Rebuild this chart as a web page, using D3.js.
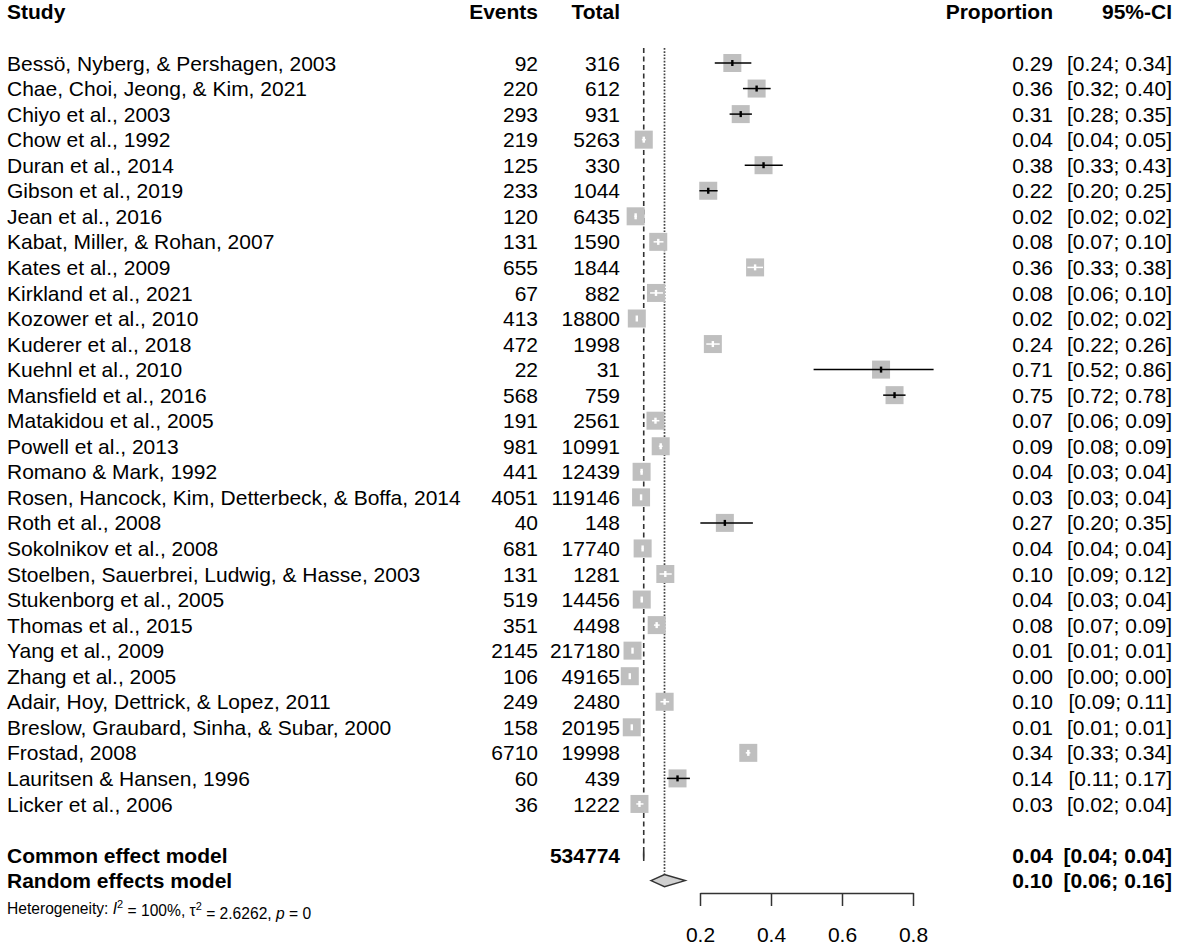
<!DOCTYPE html>
<html><head><meta charset="utf-8">
<script src="https://cdn.jsdelivr.net/npm/d3@7"></script>
<style>
body{margin:0;background:#fff;}
svg text{font-family:"Liberation Sans",Arial,sans-serif;fill:#000;}
</style></head>
<body><svg id="c" width="1181" height="950"></svg>
<script>
const studies = ["Bessö, Nyberg, & Pershagen, 2003","Chae, Choi, Jeong, & Kim, 2021","Chiyo et al., 2003","Chow et al., 1992","Duran et al., 2014","Gibson et al., 2019","Jean et al., 2016","Kabat, Miller, & Rohan, 2007","Kates et al., 2009","Kirkland et al., 2021","Kozower et al., 2010","Kuderer et al., 2018","Kuehnl et al., 2010","Mansfield et al., 2016","Matakidou et al., 2005","Powell et al., 2013","Romano & Mark, 1992","Rosen, Hancock, Kim, Detterbeck, & Boffa, 2014","Roth et al., 2008","Sokolnikov et al., 2008","Stoelben, Sauerbrei, Ludwig, & Hasse, 2003","Stukenborg et al., 2005","Thomas et al., 2015","Yang et al., 2009","Zhang et al., 2005","Adair, Hoy, Dettrick, & Lopez, 2011","Breslow, Graubard, Sinha, & Subar, 2000","Frostad, 2008","Lauritsen & Hansen, 1996","Licker et al., 2006"];
const events = [92,220,293,219,125,233,120,131,655,67,413,472,22,568,191,981,441,4051,40,681,131,519,351,2145,106,249,158,6710,60,36];
const totals = [316,612,931,5263,330,1044,6435,1590,1844,882,18800,1998,31,759,2561,10991,12439,119146,148,17740,1281,14456,4498,217180,49165,2480,20195,19998,439,1222];
const proportion = [0.2911,0.3595,0.3147,0.0416,0.379,0.2232,0.0187,0.0824,0.3552,0.076,0.022,0.2362,0.710,0.748,0.0746,0.0893,0.0355,0.034,0.270,0.0384,0.1023,0.0359,0.078,0.0099,0.0022,0.1004,0.0078,0.336,0.1367,0.0295];
const lower = [0.2416,0.321,0.2834,0.0363,0.326,0.1984,0.0154,0.0693,0.3334,0.0594,0.0200,0.2177,0.520,0.716,0.0646,0.0840,0.0320,0.0330,0.201,0.0357,0.0860,0.0330,0.0703,0.0095,0.0018,0.0886,0.0067,0.329,0.1068,0.0206];
const upper = [0.3446,0.399,0.3462,0.0474,0.433,0.2496,0.0223,0.0971,0.3775,0.0956,0.0240,0.2555,0.858,0.779,0.0856,0.0947,0.0390,0.0351,0.349,0.0410,0.1204,0.0390,0.0864,0.0103,0.0026,0.1131,0.0091,0.342,0.1716,0.0407];
const summaryLabels = ["Common effect model","Random effects model"];
const summaryTotal = 534774;
const summaryEst = [0.0415,0.100];
const summaryLower = [0.0410,0.062];
const summaryUpper = [0.0420,0.158];
const tickValues = [0.2,0.4,0.6,0.8];
const headers = {study:"Study",events:"Events",total:"Total",prop:"Proportion",ci:"95%-CI"};

const svg = d3.select("#c");
const FS = 21;
const x = d3.scaleLinear().domain([0.2,0.8]).range([700,913]);
const y = d3.scaleLinear().domain([0,1]).range([63,63+25.55]);
const xEv = 538, xTot = 620, xProp = 1053, xCI = 1172, xStudy = 7;
const sq = 18;
const f2 = d => d.toFixed(2);

function txt(xp, yp, s, anchor, bold, size){
  return svg.append("text").attr("x",xp).attr("y",yp).attr("dy","0.36em")
    .attr("text-anchor",anchor||"start").attr("font-size",size||FS)
    .attr("font-weight",bold?"bold":"normal").text(s);
}
// headers
const hy = y(-2);
txt(xStudy,hy,headers.study,"start",true);
txt(xEv,hy,headers.events,"end",true);
txt(xTot,hy,headers.total,"end",true);
txt(xProp,hy,headers.prop,"end",true);
txt(xCI,hy,headers.ci,"end",true);

// reference lines
svg.append("line").attr("x1",x(summaryEst[0])).attr("x2",x(summaryEst[0]))
  .attr("y1",48).attr("y2",y(31)-6).attr("stroke","#333").attr("stroke-width",1.6).attr("stroke-dasharray","5,3.5");
svg.append("line").attr("x1",x(summaryEst[1])).attr("x2",x(summaryEst[1]))
  .attr("y1",48).attr("y2",y(32)-6).attr("stroke","#444").attr("stroke-width",1.7).attr("stroke-dasharray","1.7,1.5");

// study rows
studies.forEach((s,i)=>{
  const yy = y(i);
  txt(xStudy,yy,s,"start",false);
  txt(xEv,yy,events[i],"end",false);
  txt(xTot,yy,totals[i],"end",false);
  txt(xProp,yy,f2(proportion[i]),"end",false);
  txt(xCI,yy,"["+f2(lower[i])+"; "+f2(upper[i])+"]","end",false);
  const cx = x(proportion[i]);
  svg.append("rect").attr("x",cx-sq/2).attr("y",yy-sq/2).attr("width",sq).attr("height",sq).attr("fill","#bfbfbf");
  const inside = (x(upper[i])-x(lower[i])) < sq;
  const col = inside ? "#fff" : "#000";
  svg.append("line").attr("x1",x(lower[i])).attr("x2",x(upper[i])).attr("y1",yy).attr("y2",yy)
    .attr("stroke",col).attr("stroke-width",1.5);
  svg.append("rect").attr("x",cx-1.2).attr("y",yy-3).attr("width",2.4).attr("height",6).attr("fill",col);
});

// summary rows
summaryLabels.forEach((s,k)=>{
  const yy = y(31+k);
  txt(xStudy,yy,s,"start",true);
  if(k===0) txt(xTot,yy,summaryTotal,"end",true);
  txt(xProp,yy,f2(summaryEst[k]),"end",true);
  txt(xCI,yy,"["+f2(summaryLower[k])+"; "+f2(summaryUpper[k])+"]","end",true);
  const h = 6;
  const pts = [[x(summaryLower[k]),yy],[x(summaryEst[k]),yy-h],[x(summaryUpper[k]),yy],[x(summaryEst[k]),yy+h]];
  svg.append("polygon").attr("points",pts.map(p=>p.join(",")).join(" "))
    .attr("fill","#d0d0d0").attr("stroke","#333").attr("stroke-width",1.5);
});

// heterogeneity
const ht = svg.append("text").attr("x",xStudy).attr("y",y(33)+2).attr("dy","0.36em").attr("font-size",15.6);
ht.append("tspan").text("Heterogeneity: ");
ht.append("tspan").attr("font-style","italic").text("I");
ht.append("tspan").attr("font-size",11).attr("dy","-0.55em").text("2");
ht.append("tspan").attr("dy","0.55em").text(" = 100%, τ");
ht.append("tspan").attr("font-size",11).attr("dy","-0.55em").text("2");
ht.append("tspan").attr("dy","0.55em").text(" = 2.6262, ");
ht.append("tspan").attr("font-style","italic").text("p");
ht.append("tspan").text(" = 0");

// axis
const ax = svg.append("g").attr("transform","translate(0,893)")
  .call(d3.axisBottom(x).tickValues(tickValues).tickSize(13).tickSizeOuter(0).tickFormat(d3.format(".1f")));
ax.select(".domain").attr("stroke","#333").attr("stroke-width",1.5);
ax.selectAll(".tick line").attr("stroke","#333").attr("stroke-width",1.5);
ax.selectAll(".tick text").attr("font-size",FS).attr("font-family","Liberation Sans, Arial, sans-serif")
  .attr("y",41).attr("dy","0.36em").attr("fill","#000");
</script></body></html>
